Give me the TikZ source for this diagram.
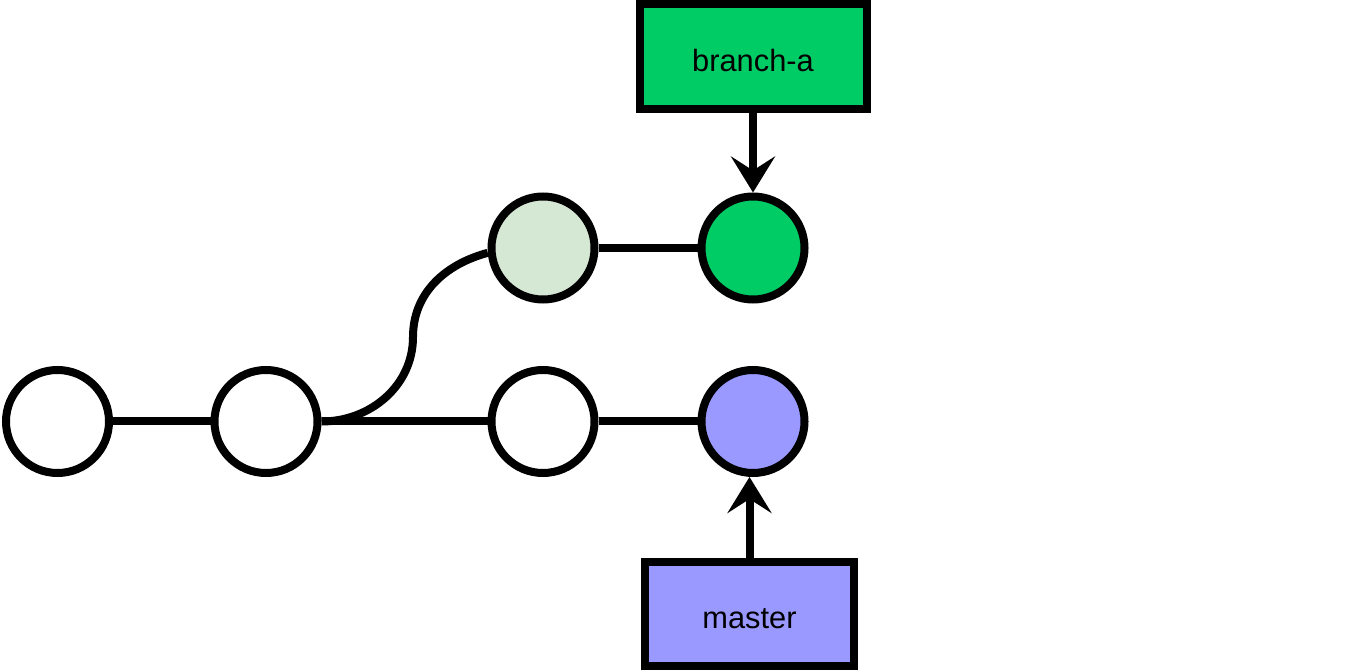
\documentclass[tikz,border=0pt]{standalone}
\usepackage{fontspec}
\setsansfont{Liberation Sans}
\usepackage{xcolor}
\usepackage{tikz}
\usetikzlibrary{positioning}
\usetikzlibrary{arrows.meta}
\definecolor{branchgreen}{HTML}{00CC66}
\definecolor{paleleaf}{HTML}{D5E8D4}
\definecolor{masterblue}{HTML}{9999FF}
\tikzset{edge/.style = {-{Stealth[length=18pt,width=22pt,inset=7pt]}}}

\begin{document}
\begin{tikzpicture}[x=0.5pt,y=0.5pt,line width=4pt,
        main node/.style={circle,draw,fill=white,minimum size=51.5pt,inner sep=0pt},
        ref node/.style={rectangle,draw,inner sep=0pt,text height=14.7pt,text depth=0pt,font=\sffamily\fontsize{15.4}{18}\selectfont}]
            \useasboundingbox (0,0) rectangle (1350,670);

            \node[main node] (1) at (57.5,248.5) {};
            \node[main node] (2) at (266,248.5) {};
            \node[main node] (4) at (543,248.5) {};
            \node[main node, fill=masterblue] (5) at (753,248.5) {};
            \node[main node, fill=paleleaf] (3) at (543,422) {};
            \node[main node, fill=branchgreen] (6) at (753,422) {};

            \node[ref node, fill=branchgreen, minimum width=113.5pt, minimum height=52.5pt] (branch) at (753,613.5) {branch-a};
            \node[ref node, fill=masterblue, minimum width=104.5pt, minimum height=52pt] (master) at (749.5,56) {master};

            \coordinate (bend) at (413,333);

            \path (1) edge (2);
            \path (2) edge (4);
            \path (4) edge (5);
            \path (3) edge (6);
            \draw (2.east) to[out=0,in=-90] (bend) to[out=90,in=195] (3.185);

            \path[edge] (branch) edge (6);
            \draw[edge] (master.north) -- (master.north |- 5.south);

        \end{tikzpicture}
\end{document}
